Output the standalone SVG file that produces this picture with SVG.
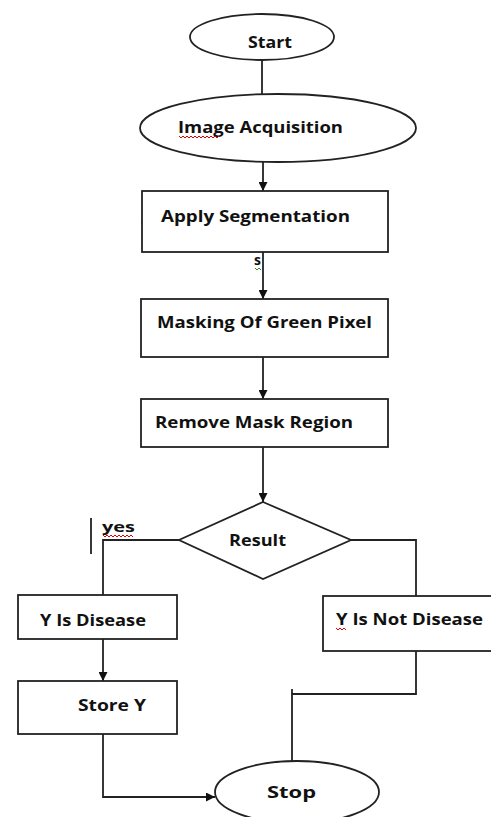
<svg xmlns="http://www.w3.org/2000/svg" width="491" height="817" viewBox="0 0 491 817">
<defs>
<style>
.shape{fill:#fff;stroke:#222;stroke-width:1.8}
.conn{fill:none;stroke:#222;stroke-width:1.8}
.lbl{font-family:"Open Sans","Liberation Sans",sans-serif;font-weight:bold;font-size:16px;fill:#111}
.small{font-family:"Open Sans","Liberation Sans",sans-serif;font-weight:bold;font-size:14px;fill:#111}
.sq{fill:none;stroke-width:1}
</style>
<marker id="arr" viewBox="0 0 10 10" refX="10" refY="5" markerWidth="5" markerHeight="5" markerUnits="strokeWidth" orient="auto">
<path d="M0,0 L10,5 L0,10 z" fill="#111"/>
</marker>
</defs>
<rect width="491" height="817" fill="#fff"/>
<g id="connectors">
<path class="conn" d="M262,60 L262,94"/>
<path class="conn" d="M263,162 L263,191" marker-end="url(#arr)"/>
<path class="conn" d="M263,252 L263,299" marker-end="url(#arr)"/>
<path class="conn" d="M263,357 L263,399" marker-end="url(#arr)"/>
<path class="conn" d="M263,447 L263,502" marker-end="url(#arr)"/>
<path class="conn" d="M179,540 L103,540 L103,595"/>
<path class="conn" d="M351,540 L416,540 L416,596"/>
<path class="conn" d="M103,639 L103,681" marker-end="url(#arr)"/>
<path class="conn" d="M103,734 L103,797 L215,797" marker-end="url(#arr)"/>
<path class="conn" d="M416,651 L416,694 L292,694 L292,761"/>
<path class="conn" d="M292,689 L292,694"/>
<path class="conn" d="M91,518 L91,554"/>
<text class="small" x="102" y="532" textLength="33" lengthAdjust="spacingAndGlyphs">yes</text>
<path class="sq" stroke="#d00" d="M103,535 l2,2 l2,-2 l2,2 l2,-2 l2,2 l2,-2 l2,2 l2,-2 l2,2 l2,-2 l2,2 l2,-2 l2,2 l2,-2 l2,2"/>
<text class="small" x="254" y="265" font-size="11">s</text>
<path class="sq" stroke="#2a8a2a" d="M255,268 l2,2 l2,-2 l2,2"/>
<path class="sq" stroke="#d00" d="M142,219 L142,224"/>
</g>
<g id="start">
<ellipse class="shape" cx="262" cy="37" rx="72" ry="23"/>
<text class="lbl" x="248" y="48" textLength="44" lengthAdjust="spacingAndGlyphs">Start</text>
</g>
<g id="image-acquisition">
<ellipse class="shape" cx="278" cy="128" rx="138" ry="34"/>
<text class="lbl" x="178" y="133" textLength="165" lengthAdjust="spacingAndGlyphs">Image Acquisition</text>
<path class="sq" stroke="#d00" d="M179,136 l2,2 l2,-2 l2,2 l2,-2 l2,2 l2,-2 l2,2 l2,-2 l2,2 l2,-2 l2,2 l2,-2 l2,2 l2,-2 l2,2 l2,-2 l2,2 l2,-2 l2,2 l2,-2"/>
</g>
<g id="apply-segmentation">
<rect class="shape" x="142" y="191" width="246" height="61"/>
<text class="lbl" x="161" y="222" textLength="189" lengthAdjust="spacingAndGlyphs">Apply Segmentation</text>
</g>
<g id="masking">
<rect class="shape" x="141" y="299" width="247" height="58"/>
<text class="lbl" x="157" y="328" textLength="215" lengthAdjust="spacingAndGlyphs">Masking Of Green Pixel</text>
</g>
<g id="remove-mask">
<rect class="shape" x="141" y="399" width="247" height="48"/>
<text class="lbl" x="155" y="428" textLength="198" lengthAdjust="spacingAndGlyphs">Remove Mask Region</text>
</g>
<g id="result">
<polygon class="shape" points="263,502 351,540 263,579 179,540"/>
<text class="lbl" x="229" y="546" textLength="57" lengthAdjust="spacingAndGlyphs">Result</text>
</g>
<g id="y-is-disease">
<rect class="shape" x="18" y="595" width="159" height="44"/>
<text class="lbl" x="40" y="626" textLength="106" lengthAdjust="spacingAndGlyphs">Y Is Disease</text>
</g>
<g id="y-is-not-disease">
<rect class="shape" x="323" y="596" width="180" height="55"/>
<text class="lbl" x="336" y="625" textLength="147" lengthAdjust="spacingAndGlyphs">Y Is Not Disease</text>
<path class="sq" stroke="#d00" d="M336,628 l2,2 l2,-2 l2,2 l2,-2 l2,2"/>
</g>
<g id="store-y">
<rect class="shape" x="18" y="681" width="159" height="53"/>
<text class="lbl" x="78" y="711" textLength="68" lengthAdjust="spacingAndGlyphs">Store Y</text>
</g>
<g id="stop">
<ellipse class="shape" cx="297" cy="792" rx="82" ry="31"/>
<text class="lbl" x="267" y="798" textLength="49" lengthAdjust="spacingAndGlyphs" font-size="17">Stop</text>
</g>
</svg>
